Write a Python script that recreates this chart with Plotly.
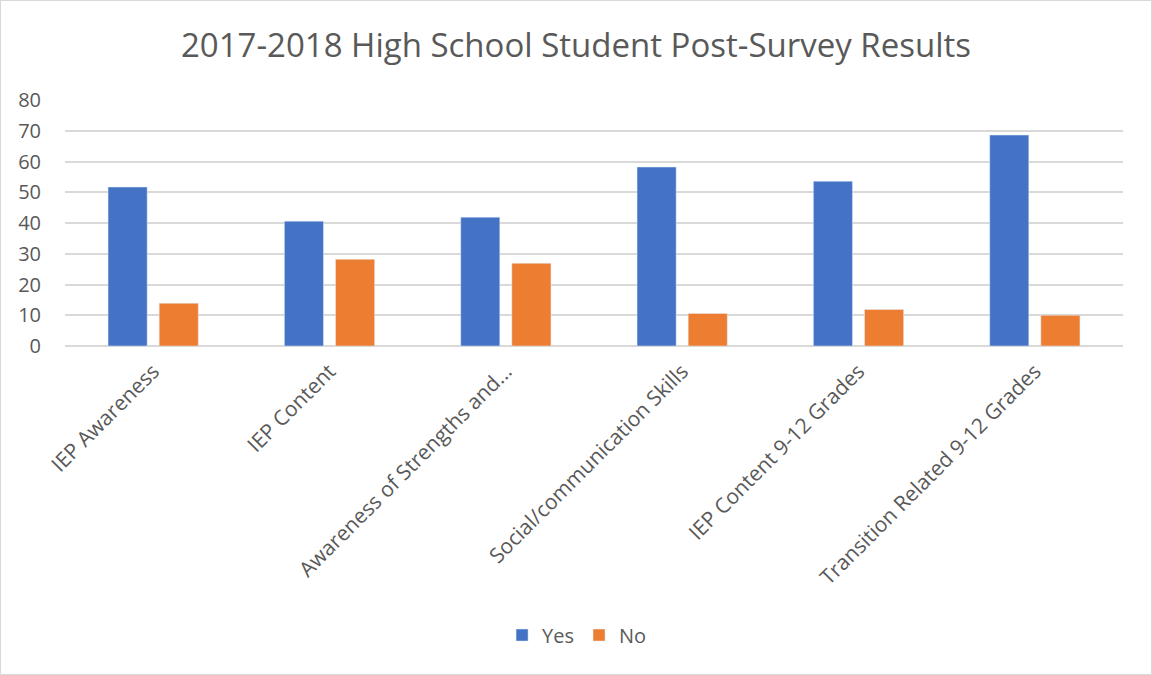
import plotly.graph_objects as go

categories = ["IEP Awareness", "IEP Content", "Awareness of Strengths and...",
              "Social/communication Skills", "IEP Content 9-12 Grades",
              "Transition Related 9-12 Grades"]
yes_vals = [51.7, 40.6, 41.9, 58.2, 53.6, 68.6]
no_vals = [13.9, 28.2, 26.9, 10.6, 11.9, 10.0]
y_ticks = [0, 10, 20, 30, 40, 50, 60, 70, 80]

FONT = "Open Sans, sans-serif"
GREY = "#595959"

fig = go.Figure()
fig.add_trace(go.Bar(name="Yes", x=categories, y=yes_vals, marker_color="#4472C4"))
fig.add_trace(go.Bar(name="No", x=categories, y=no_vals, marker_color="#ED7D31"))

fig.update_layout(
    width=1152, height=675,
    paper_bgcolor="white", plot_bgcolor="white",
    barmode="group", bargap=0.42, bargroupgap=0.235,
    margin=dict(l=65, r=29, t=100, b=329),
    title=dict(text="2017-2018 High School Student Post-Survey Results",
               x=0.5, xanchor="center", y=0.932, yanchor="middle",
               font=dict(family=FONT, size=33, color=GREY)),
    font=dict(family=FONT, color=GREY, size=18),
    legend=dict(orientation="h", x=0.484, xanchor="center", y=-1.175, yanchor="middle",
                font=dict(family=FONT, size=20, color=GREY), itemwidth=30),
    xaxis=dict(tickangle=-45, tickfont=dict(size=21, color=GREY), showline=False,
               showgrid=False, ticks="", ticklabelstandoff=8),
    yaxis=dict(range=[0, 80], tickvals=y_ticks, showgrid=True, gridcolor="#D9D9D9",
               gridwidth=1.5, zeroline=True, zerolinecolor="#D9D9D9", zerolinewidth=1.5,
               tickfont=dict(size=20, color=GREY), ticks="", ticklabelstandoff=23),
)
fig.add_shape(type="rect", xref="paper", yref="paper",
              x0=-65/1058, x1=1+29/1058, y0=-329/246, y1=1+100/246,
              line=dict(color="#D9D9D9", width=2), layer="below")

fig.write_html("out.html")
